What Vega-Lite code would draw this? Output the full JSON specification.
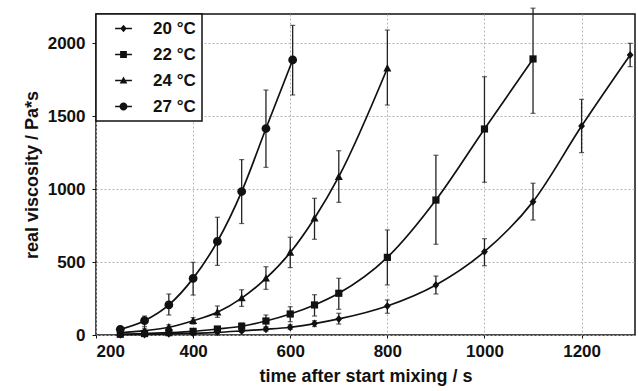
{
  "$schema": "https://vega.github.io/schema/vega-lite/v6.json",
  "width": 539,
  "height": 321,
  "autosize": {"type": "none"},
  "padding": {"left": 96, "top": 14, "right": 3, "bottom": 56},
  "config": {
    "font": "Liberation Sans",
    "view": {"stroke": "#111", "strokeWidth": 1.5},
    "axis": {
      "labelFont": "Liberation Sans",
      "labelFontSize": 17,
      "labelFontWeight": "bold",
      "labelColor": "#111",
      "titleFont": "Liberation Sans",
      "titleFontSize": 18,
      "titleFontWeight": "bold",
      "titleColor": "#111",
      "domain": false,
      "tickColor": "#111",
      "tickSize": 4,
      "grid": true,
      "gridColor": "#b5b5b5",
      "gridDash": [2, 2],
      "gridWidth": 1,
      "format": "d"
    },
    "legend": {
      "orient": "top-left",
      "offset": 0,
      "padding": 6,
      "strokeColor": "#111",
      "strokeWidth": 1.5,
      "fillColor": "white",
      "labelFont": "Liberation Sans",
      "labelFontSize": 17,
      "labelFontWeight": "bold",
      "labelColor": "#111",
      "rowPadding": 8,
      "symbolSize": 64,
      "symbolOffset": 13,
      "labelOffset": 21,
      "symbolOpacity": 1,
      "symbolFillColor": "#111",
      "symbolStrokeWidth": 0
    }
  },
  "data": {
    "values": [
      {"T": "20 °C", "t": 250, "v": 2, "lo": 1, "hi": 4},
      {"T": "20 °C", "t": 300, "v": 4, "lo": 2, "hi": 7},
      {"T": "20 °C", "t": 350, "v": 8, "lo": 5, "hi": 12},
      {"T": "20 °C", "t": 400, "v": 12, "lo": 8, "hi": 17},
      {"T": "20 °C", "t": 450, "v": 18, "lo": 12, "hi": 25},
      {"T": "20 °C", "t": 500, "v": 28, "lo": 18, "hi": 38},
      {"T": "20 °C", "t": 550, "v": 39, "lo": 27, "hi": 52},
      {"T": "20 °C", "t": 600, "v": 53, "lo": 38, "hi": 70},
      {"T": "20 °C", "t": 650, "v": 78, "lo": 58, "hi": 98},
      {"T": "20 °C", "t": 700, "v": 110, "lo": 75, "hi": 149},
      {"T": "20 °C", "t": 800, "v": 199, "lo": 149, "hi": 240},
      {"T": "20 °C", "t": 900, "v": 343, "lo": 281, "hi": 404},
      {"T": "20 °C", "t": 1000, "v": 571, "lo": 475, "hi": 660},
      {"T": "20 °C", "t": 1100, "v": 914, "lo": 788, "hi": 1040},
      {"T": "20 °C", "t": 1200, "v": 1432, "lo": 1250, "hi": 1615},
      {"T": "20 °C", "t": 1300, "v": 1919, "lo": 1839, "hi": 1999},
      {"T": "22 °C", "t": 250, "v": 5, "lo": 3, "hi": 8},
      {"T": "22 °C", "t": 300, "v": 10, "lo": 6, "hi": 15},
      {"T": "22 °C", "t": 350, "v": 16, "lo": 10, "hi": 23},
      {"T": "22 °C", "t": 400, "v": 25, "lo": 16, "hi": 35},
      {"T": "22 °C", "t": 450, "v": 41, "lo": 28, "hi": 56},
      {"T": "22 °C", "t": 500, "v": 60, "lo": 40, "hi": 82},
      {"T": "22 °C", "t": 550, "v": 96, "lo": 57, "hi": 137},
      {"T": "22 °C", "t": 600, "v": 144, "lo": 91, "hi": 194},
      {"T": "22 °C", "t": 650, "v": 206, "lo": 130, "hi": 276},
      {"T": "22 °C", "t": 700, "v": 286, "lo": 176, "hi": 389},
      {"T": "22 °C", "t": 800, "v": 532, "lo": 343, "hi": 720},
      {"T": "22 °C", "t": 900, "v": 925, "lo": 622, "hi": 1232},
      {"T": "22 °C", "t": 1000, "v": 1412, "lo": 1047, "hi": 1770},
      {"T": "22 °C", "t": 1100, "v": 1892, "lo": 1519, "hi": 2240},
      {"T": "24 °C", "t": 250, "v": 15, "lo": 9, "hi": 22},
      {"T": "24 °C", "t": 300, "v": 30, "lo": 20, "hi": 42},
      {"T": "24 °C", "t": 350, "v": 53, "lo": 38, "hi": 70},
      {"T": "24 °C", "t": 400, "v": 98, "lo": 75, "hi": 119},
      {"T": "24 °C", "t": 450, "v": 156, "lo": 121, "hi": 199},
      {"T": "24 °C", "t": 500, "v": 253, "lo": 196, "hi": 310},
      {"T": "24 °C", "t": 550, "v": 388, "lo": 313, "hi": 468},
      {"T": "24 °C", "t": 600, "v": 565, "lo": 462, "hi": 670},
      {"T": "24 °C", "t": 650, "v": 800, "lo": 656, "hi": 937},
      {"T": "24 °C", "t": 700, "v": 1085, "lo": 909, "hi": 1263},
      {"T": "24 °C", "t": 800, "v": 1828, "lo": 1576, "hi": 2090},
      {"T": "27 °C", "t": 250, "v": 39, "lo": 25, "hi": 55},
      {"T": "27 °C", "t": 300, "v": 98, "lo": 57, "hi": 130},
      {"T": "27 °C", "t": 350, "v": 206, "lo": 137, "hi": 281},
      {"T": "27 °C", "t": 400, "v": 388, "lo": 274, "hi": 498},
      {"T": "27 °C", "t": 450, "v": 641, "lo": 477, "hi": 807},
      {"T": "27 °C", "t": 500, "v": 983, "lo": 764, "hi": 1202},
      {"T": "27 °C", "t": 550, "v": 1415, "lo": 1149, "hi": 1679},
      {"T": "27 °C", "t": 605, "v": 1885, "lo": 1645, "hi": 2122}
    ]
  },
  "encoding": {
    "x": {
      "field": "t",
      "type": "quantitative",
      "scale": {"domain": [200, 1310], "nice": false, "zero": false},
      "axis": {"values": [200, 400, 600, 800, 1000, 1200], "title": "time after start mixing / s", "labelPadding": 5, "titlePadding": 8, "tickSize": 3}
    }
  },
  "resolve": {"scale": {"shape": "independent"}, "legend": {"shape": "independent"}},
  "layer": [
    {
      "mark": {"type": "line", "interpolate": "monotone", "color": "#111", "strokeWidth": 1.7},
      "encoding": {
        "y": {
          "field": "v",
          "type": "quantitative",
          "scale": {"domain": [0, 2200], "nice": false},
          "axis": {"values": [0, 500, 1000, 1500, 2000], "title": "real viscosity / Pa*s", "labelPadding": 7, "titlePadding": 6}
        },
        "detail": {"field": "T"}
      }
    },
    {
      "mark": {"type": "rule", "color": "#222", "strokeWidth": 1.3},
      "encoding": {
        "y": {"field": "lo", "type": "quantitative"},
        "y2": {"field": "hi"}
      }
    },
    {
      "mark": {"type": "tick", "orient": "horizontal", "size": 5, "thickness": 1.2, "color": "#222"},
      "encoding": {"y": {"field": "lo", "type": "quantitative"}}
    },
    {
      "mark": {"type": "tick", "orient": "horizontal", "size": 5, "thickness": 1.2, "color": "#222"},
      "encoding": {"y": {"field": "hi", "type": "quantitative"}}
    },
    {
      "mark": {"type": "point", "filled": true, "color": "#111", "opacity": 1, "size": 64},
      "encoding": {
        "y": {"field": "v", "type": "quantitative"},
        "shape": {
          "field": "T",
          "type": "nominal",
          "scale": {
            "domain": ["20 °C", "22 °C", "24 °C", "27 °C"],
            "range": [
              "M0,-1L0.85,0L0,1L-0.85,0Z",
              "M-0.9,-0.9H0.9V0.9H-0.9Z",
              "M0,-1.05L1,0.8H-1Z",
              "M1.1,0A1.1,1.1 0 1,1 -1.1,0A1.1,1.1 0 1,1 1.1,0Z"
            ]
          },
          "legend": null
        }
      }
    },
    {
      "mark": {"type": "point", "filled": true, "color": "#111", "opacity": 0, "size": 64},
      "encoding": {
        "y": {"field": "v", "type": "quantitative"},
        "shape": {
          "field": "T",
          "type": "nominal",
          "scale": {
            "domain": ["20 °C", "22 °C", "24 °C", "27 °C"],
            "range": [
              "M-2.1,-0.19H2.1V0.19H-2.1ZM0,-0.95L0.8,0L0,0.95L-0.8,0Z",
              "M-2.1,-0.19H2.1V0.19H-2.1ZM-0.85,-0.85H0.85V0.85H-0.85Z",
              "M-2.1,-0.19H2.1V0.19H-2.1ZM0,-1.0L0.95,0.75H-0.95Z",
              "M-2.1,-0.19H2.1V0.19H-2.1ZM1.0,0A1.0,1.0 0 1,1 -1.0,0A1.0,1.0 0 1,1 1.0,0Z"
            ]
          },
          "legend": {"title": null, "symbolOpacity": 1}
        }
      }
    }
  ]
}
